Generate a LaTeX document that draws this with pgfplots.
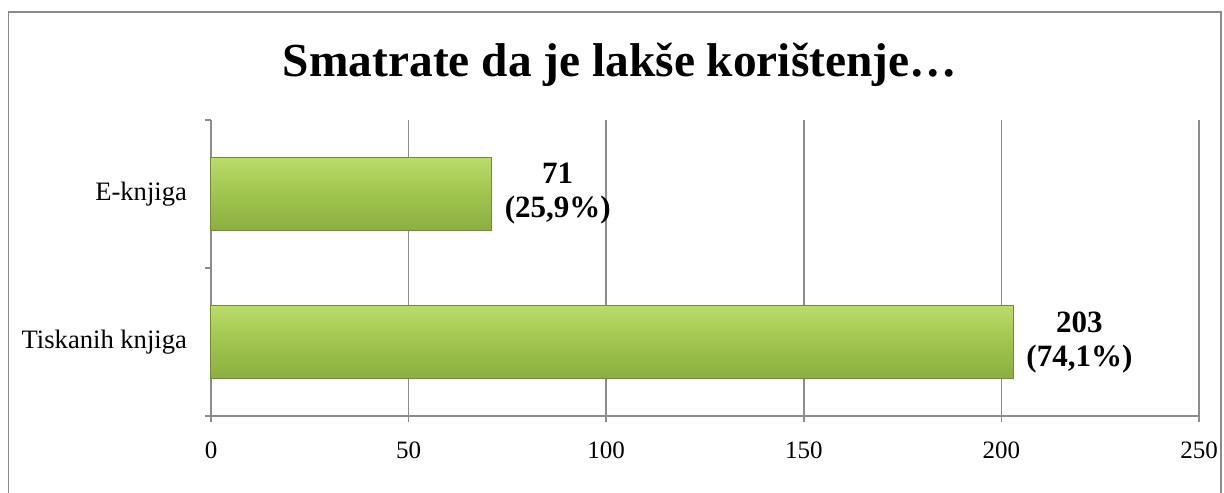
\documentclass[border=0pt]{standalone}
\usepackage{fontspec}
\setmainfont{Liberation Serif}
\usepackage{pgfplots}
\pgfplotsset{compat=1.18}
\definecolor{barmid}{HTML}{A0C44E}
\definecolor{bartop}{HTML}{BBDB6C}
\definecolor{barbot}{HTML}{8BAE41}
\definecolor{baredge}{HTML}{6F8E33}
\definecolor{gridgray}{HTML}{8C8C8C}
\definecolor{framegray}{HTML}{8A8A8A}
\pgfplotsset{
  greenbar/.style={xbar, bar width=36.5pt, bar shift=0pt, draw=baredge, line width=0.5pt,
    top color=bartop, bottom color=barbot, middle color=barmid,
    point meta=explicit symbolic,
    nodes near coords,
    nodes near coords style={anchor=west, xshift=3pt, align=center,
      font=\fontsize{15.5}{17}\selectfont\bfseries, text=black}}
}
\begin{document}
\begin{tikzpicture}
  \useasboundingbox (0,0) rectangle (612pt,246pt);
  % outer frame (bottom edge lies outside the picture)
  \draw[framegray, line width=0.8pt] (4.25pt,-2pt) -- (4.25pt,240pt) -- (610.5pt,240pt) -- (610.5pt,-2pt);
  \node[anchor=base, font=\fontsize{23.7}{28}\selectfont\bfseries] at (310pt,207.5pt) {Smatrate da je lakše korištenje…};
  \begin{axis}[
    at={(105.5pt,38pt)}, anchor=south west,
    width=494pt, height=148pt, scale only axis,
    xmin=0, xmax=250, ymin=-0.5, ymax=1.5,
    axis lines*=left,
    axis line style={draw=gridgray, line width=0.75pt},
    xtick={0,50,100,150,200,250},
    ytick={-0.5,0.5,1.5}, yticklabels={},
    extra y ticks={0,1},
    extra y tick labels={Tiskanih knjiga,E-knjiga},
    extra y tick style={tick style={draw=none}, grid=none,
      yticklabel style={xshift=-5.5pt}},
    xmajorgrids, ymajorgrids=false,
    major grid style={draw=gridgray, line width=0.75pt},
    tick align=outside, major tick length=3pt,
    tick style={draw=gridgray, line width=0.75pt},
    xticklabel style={font=\fontsize{12.5}{14}\selectfont, yshift=-6.5pt},
    yticklabel style={font=\fontsize{13.3}{15}\selectfont},
    /pgf/number format/assume math mode=true,
    clip=false,
  ]
    \addplot[greenbar] coordinates {(203,0) [203\\(74,1\%)]};
    \addplot[greenbar] coordinates {(71,1) [71\\(25,9\%)]};
  \end{axis}
\end{tikzpicture}
\end{document}
